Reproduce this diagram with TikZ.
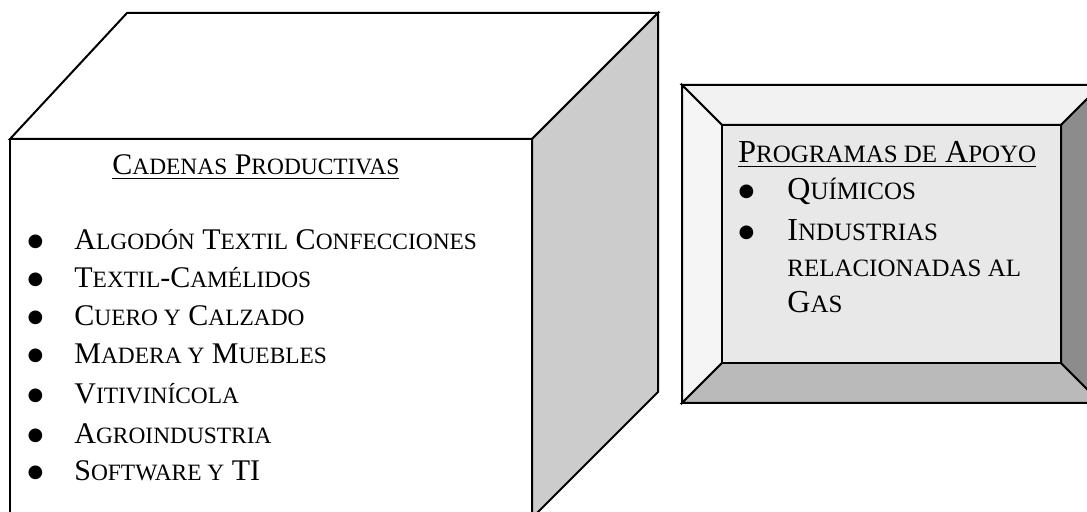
\documentclass[tikz,border=0pt]{standalone}
\usepackage{fontspec}
\setmainfont{Liberation Serif}
\newfontfamily\simb{DejaVu Sans}
\newcommand{\pc}[1]{{\fontsize{0.78em}{1em}\selectfont #1}}
\newcommand{\vin}[1][14pt]{\makebox[12pt][c]{\raisebox{1.8pt}{\simb\fontsize{9}{9}\selectfont ●}}\hspace{#1}}
\definecolor{caralat}{gray}{0.80}
\tikzset{
  item/.style={anchor=base west,inner sep=0pt,font=\fontsize{15}{18}\selectfont},
  itemb/.style={item,font=\fontsize{16}{19}\selectfont},
  cara/.style={draw,line width=1pt,line join=miter}
}
\begin{document}
\begin{tikzpicture}[x=0.5pt,y=-0.5pt]
			\useasboundingbox (0,0) rectangle (1087,512);
			\clip (0,0) rectangle (1087,512);

			% Cubo
			\draw[cara,fill=white] (10,139) -- (127,13) -- (658,13) -- (532,139) -- cycle;
			\draw[cara,fill=caralat] (532,139) -- (658,13) -- (658,392) -- (532,518) -- cycle;
			\draw[cara,fill=white] (10,139) rectangle (532,540);

			\node[item] (cad) at (112,175) {\underline{C\pc{ADENAS} P\pc{RODUCTIVAS}}};
			\node[item] (c1) at (23,250) {\vin[13.5pt]A\pc{LGODÓN} T\pc{EXTIL} C\pc{ONFECCIONES}};
			\node[item] (c2) at (23,288) {\vin[13.5pt]T\pc{EXTIL}-C\pc{AMÉLIDOS}};
			\node[item] (c3) at (23,326) {\vin[13.5pt]C\pc{UERO Y} C\pc{ALZADO}};
			\node[item] (c4) at (23,364) {\vin[13.5pt]M\pc{ADERA Y} M\pc{UEBLES}};
			\node[item] (c5) at (23,404) {\vin[13.5pt]V\pc{ITIVINÍCOLA}};
			\node[item] (c6) at (23,444) {\vin[13.5pt]A\pc{GROINDUSTRIA}};
			\node[item] (c7) at (23,481) {\vin[13.5pt]S\pc{OFTWARE Y} TI};

			% Marco biselado
			\draw[cara,fill=black!5] (682,85) -- (1101,85) -- (1061,125) -- (722,125) -- cycle;
			\draw[cara,fill=black!4] (682,85) -- (722,125) -- (722,363) -- (682,403) -- cycle;
			\draw[cara,fill=black!27] (682,403) -- (722,363) -- (1061,363) -- (1101,403) -- cycle;
			\draw[cara,fill=black!45] (1101,85) -- (1061,125) -- (1061,363) -- (1101,403) -- cycle;
			\draw[cara,fill=black!9] (722,125) rectangle (1061,363);

			\node[itemb] (prog) at (738,163) {\underline{P\pc{ROGRAMAS DE} A\pc{POYO}}};
			\node[itemb] (p1) at (734,200) {\vin[14.5pt]Q\pc{UÍMICOS}};
			\node[itemb] (p2) at (734,241) {\vin[14.5pt]I\pc{NDUSTRIAS}};
			\node[itemb] (p3) at (787,277) {\pc{RELACIONADAS AL}};
			\node[itemb] (p4) at (787,313) {G\pc{AS}};

		    \end{tikzpicture}
\end{document}
